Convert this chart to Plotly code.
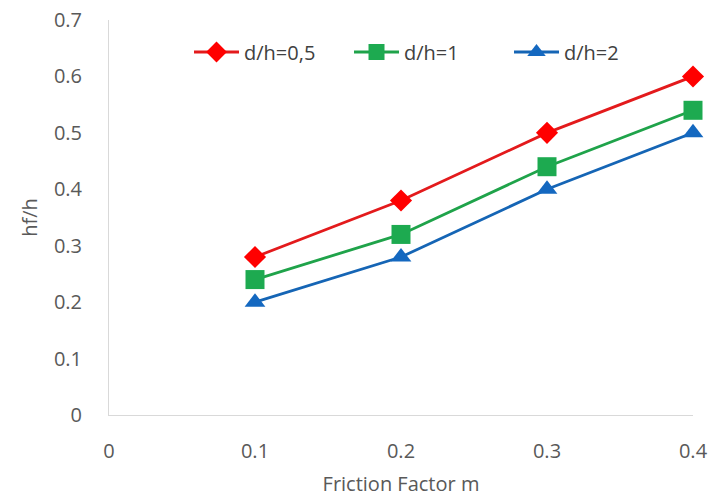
import plotly.graph_objects as go

x_vals = [0.1, 0.2, 0.3, 0.4]
dh05 = [0.28, 0.38, 0.50, 0.60]
dh1 = [0.24, 0.32, 0.44, 0.54]
dh2 = [0.20, 0.28, 0.40, 0.50]
names = ["d/h=0,5", "d/h=1", "d/h=2"]
x_ticks = [0, 0.1, 0.2, 0.3, 0.4]
x_labels = ["0", "0.1", "0.2", "0.3", "0.4"]
y_ticks = [0, 0.1, 0.2, 0.3, 0.4, 0.5, 0.6, 0.7]
y_labels = ["0", "0.1", "0.2", "0.3", "0.4", "0.5", "0.6", "0.7"]

fig = go.Figure()
styles = [
    (dh05, "#E31A1C", "#FF0000", "diamond", 17),
    (dh1, "#1FA34A", "#1DAA50", "square", 19),
    (dh2, "#1565B5", "#1468C0", "triangle-up", 18),
]
for (vals, lc, mc, sym, sz), nm in zip(styles, names):
    fig.add_trace(go.Scatter(
        x=x_vals, y=vals, name=nm, mode="lines+markers",
        line=dict(color=lc, width=2.8),
        marker=dict(symbol=sym, size=sz, color=mc, line=dict(width=0)),
        cliponaxis=False,
    ))

font = dict(family="Open Sans, Liberation Sans, sans-serif", size=20, color="#595959")
fig.update_layout(
    width=712, height=497,
    margin=dict(l=109, r=19, t=20, b=82),
    paper_bgcolor="white", plot_bgcolor="white",
    font=font,
    showlegend=True,
    legend=dict(orientation="h", x=0.137, xanchor="left", y=0.919, yanchor="middle",
                bgcolor="rgba(0,0,0,0)", font=dict(size=20, color="#404040"),
                itemwidth=45, entrywidth=100, tracegroupgap=0),
    xaxis=dict(range=[0, 0.4], tickvals=x_ticks, ticktext=x_labels, showgrid=False,
               zeroline=False, showline=True, linecolor="#D9D9D9", linewidth=1,
               ticks="", ticklabelstandoff=18, automargin=False,
               title=dict(text="Friction Factor m", standoff=14, font=dict(size=20, color="#595959"))),
    yaxis=dict(range=[0, 0.7], tickvals=y_ticks, ticktext=y_labels, showgrid=False,
               zeroline=False, showline=True, linecolor="#D9D9D9", linewidth=1,
               ticks="", ticklabelstandoff=22, automargin=False,
               title=dict(text="hf/h", standoff=10, font=dict(size=20, color="#595959"))),
)
fig.write_html("out.html")
